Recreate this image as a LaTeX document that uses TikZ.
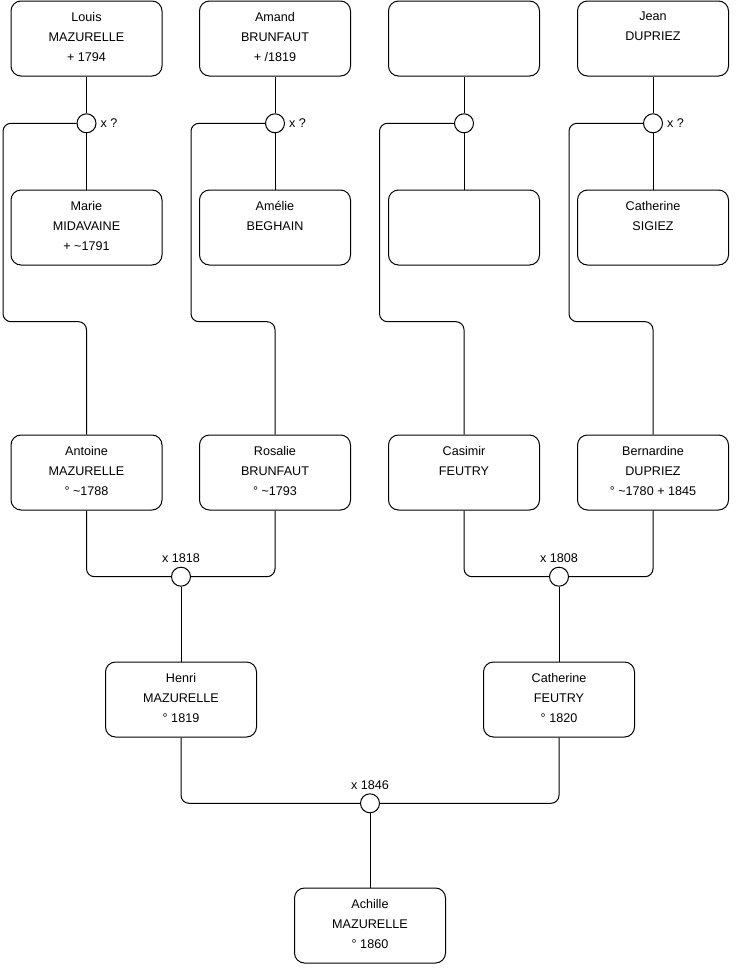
\documentclass[tikz,border=0pt]{standalone}
\usepackage{fontspec}
\setmainfont{Liberation Sans}
\newcommand{\tld}{\textasciitilde}
\begin{document}
\begin{tikzpicture}[x=1pt,y=-1pt,
  person/.style={draw, line width=1pt, rounded corners=10pt, minimum width=151pt, minimum height=75pt, inner sep=0pt, fill=white},
  ptext/.style={inner sep=0pt, align=center, font=\fontsize{12.6}{20}\selectfont},
  wed/.style={draw, circle, line width=1pt, minimum size=19pt, inner sep=0pt, fill=white},
  lbl/.style={inner sep=0pt, font=\fontsize{12.6}{14}\selectfont},
  link/.style={line width=1pt, rounded corners=8pt}]
\useasboundingbox (0,0) rectangle (740,975);
% marriage nodes
\node[wed] (m1) at (86.5,123.3) {};
\node[wed] (m2) at (275,123.3) {};
\node[wed] (m3) at (464,123.3) {};
\node[wed] (m4) at (653,123.3) {};
\node[wed] (w1) at (181,576.7) {};
\node[wed] (w2) at (559,576.7) {};
\node[wed] (w3) at (370,803.3) {};
% persons
\node[person] (louis) at (86.5,38.5) {};
\node[person] (amand) at (275,38.5) {};
\node[person] (unk1) at (464,38.5) {};
\node[person] (jean) at (653,38.5) {};
\node[person] (marie) at (86.5,227.5) {};
\node[person] (amelie) at (275,227.5) {};
\node[person] (unk2) at (464,227.5) {};
\node[person] (caths) at (653,227.5) {};
\node[person] (antoine) at (86.5,472.5) {};
\node[person] (rosalie) at (275,472.5) {};
\node[person] (casimir) at (464,472.5) {};
\node[person] (bernardine) at (653,472.5) {};
\node[person] (henri) at (181,699.5) {};
\node[person] (catherine) at (559,699.5) {};
\node[person] (achille) at (370,925.5) {};
% texts
\node[ptext] (tlouis) at ([yshift=2pt]louis.center) {Louis\\MAZURELLE\\+ 1794};
\node[ptext] (tamand) at ([yshift=2pt]amand.center) {Amand\\BRUNFAUT\\+ /1819};
\node[ptext] (tjean) at ([yshift=2pt]jean.center) {Jean\\DUPRIEZ\\\mbox{}};
\node[ptext] (tmarie) at ([yshift=2pt]marie.center) {Marie\\MIDAVAINE\\+ \tld1791};
\node[ptext] (tamelie) at ([yshift=2pt]amelie.center) {Amélie\\BEGHAIN\\\mbox{}};
\node[ptext] (tcaths) at ([yshift=2pt]caths.center) {Catherine\\SIGIEZ\\\mbox{}};
\node[ptext] (tantoine) at ([yshift=2pt]antoine.center) {Antoine\\MAZURELLE\\° \tld1788};
\node[ptext] (trosalie) at ([yshift=2pt]rosalie.center) {Rosalie\\BRUNFAUT\\° \tld1793};
\node[ptext] (tcasimir) at ([yshift=2pt]casimir.center) {Casimir\\FEUTRY\\\mbox{}};
\node[ptext] (tbernardine) at ([yshift=2pt]bernardine.center) {Bernardine\\DUPRIEZ\\° \tld1780 + 1845};
\node[ptext] (thenri) at ([yshift=2pt]henri.center) {Henri\\MAZURELLE\\° 1819};
\node[ptext] (tcatherine) at ([yshift=2pt]catherine.center) {Catherine\\FEUTRY\\° 1820};
\node[ptext] (tachille) at ([yshift=2pt]achille.center) {Achille\\MAZURELLE\\° 1860};
% labels
\node[lbl, anchor=west] (l1) at ([xshift=4pt]m1.east) {x ?};
\node[lbl, anchor=west] (l2) at ([xshift=4pt]m2.east) {x ?};
\node[lbl, anchor=west] (l4) at ([xshift=4pt]m4.east) {x ?};
\node[lbl] (l5) at (181,558) {x 1818};
\node[lbl] (l6) at (559,558) {x 1808};
\node[lbl] (l7) at (370,785) {x 1846};
% routing coordinates
\coordinate (c1) at (3,321.7);
\coordinate (c2) at (191,321.7);
\coordinate (c3) at (379.5,321.7);
\coordinate (c4) at (569,321.7);
% connectors top
\foreach \p/\m/\s in {louis/m1/marie, amand/m2/amelie, unk1/m3/unk2, jean/m4/caths}{
  \draw[link] (\p.south) -- (\m.north);
  \draw[link] (\m.south) -- (\s.north);
}
\draw[link] (m1.west) -| (c1) -| (antoine.north);
\draw[link] (m2.west) -| (c2) -| (rosalie.north);
\draw[link] (m3.west) -| (c3) -| (casimir.north);
\draw[link] (m4.west) -| (c4) -| (bernardine.north);
% lower connectors
\draw[link] (antoine.south) |- (w1.west);
\draw[link] (rosalie.south) |- (w1.east);
\draw[link] (w1.south) -- (henri.north);
\draw[link] (casimir.south) |- (w2.west);
\draw[link] (bernardine.south) |- (w2.east);
\draw[link] (w2.south) -- (catherine.north);
\draw[link] (henri.south) |- (w3.west);
\draw[link] (catherine.south) |- (w3.east);
\draw[link] (w3.south) -- (achille.north);
\end{tikzpicture}
\end{document}
